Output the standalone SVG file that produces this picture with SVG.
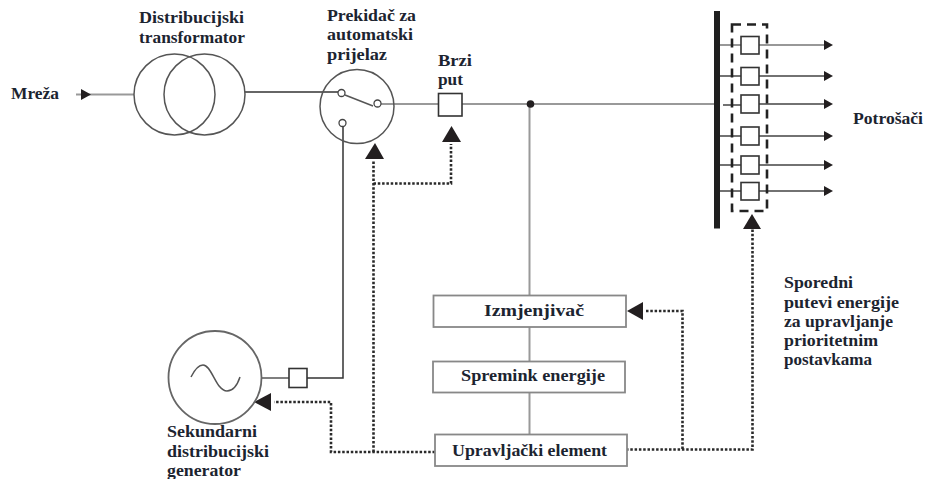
<svg xmlns="http://www.w3.org/2000/svg" width="925" height="479" viewBox="0 0 925 479">
<style>
text{font-family:"Liberation Serif","Times New Roman",serif;font-weight:bold;font-size:16px;fill:#1c2430}
.s{fill:none;stroke:#444;stroke-width:1.5}
.d{fill:none;stroke:#333;stroke-width:1.5}
.g{fill:none;stroke:#999;stroke-width:2}
.k{fill:none;stroke:#555;stroke-width:1.5}
.b{fill:#fff;stroke:#333;stroke-width:1.6}
.bx{fill:#fff;stroke:#888;stroke-width:1.800}
.dot{fill:none;stroke:#2a2a2a;stroke-width:2.600;stroke-dasharray:2.500 1.800}
.ar{fill:#231f20}
</style>
<rect width="925" height="479" fill="#fff"/>
<g id="connectors">
<path class="g" d="M76 94.500H134"/>
<path class="d" d="M245 92H338"/>
<path class="k" d="M345 95L373 106"/>
<path class="g" d="M381 104H438M462 104H714"/>
<path class="g" d="M529.500 104V295M529.500 327V361M529.500 392V434"/>
<path class="d" d="M343 127V378H307"/>
<path class="k" d="M262 378H289"/>
<g class="s">
<path d="M720 45H741M759 45H824" stroke="#777"/>
<path d="M720 76H741M759 76H824"/>
<path d="M723 105H741M759 104H824"/>
<path d="M720 136H741M759 136H824"/>
<path d="M720 165H741M759 165H824"/>
<path d="M720 191H741M759 191H824"/>
</g>
<path class="dot" d="M626 449.500H752.500V229"/>
<path class="dot" d="M682.500 449V311H645"/>
<path class="dot" d="M435 452H331V402H274"/>
<path class="dot" d="M373.500 452V160"/>
<path class="dot" d="M373.500 183.500H451V144"/>
<path class="ar" d="M91 94.500L81 89V100Z"/>
<path class="ar" d="M375 143L365 159H384Z"/>
<path class="ar" d="M451.500 126L442 142H461Z"/>
<path class="ar" d="M752 214L743 229H761Z"/>
<path class="ar" d="M627 311L643 302V320Z"/>
<path class="ar" d="M254 402L271 393V411Z"/>
<path class="ar" d="M833 45L824 40V50Z"/>
<path class="ar" d="M833 76L824 71V81Z"/>
<path class="ar" d="M833 104L824 99V109Z"/>
<path class="ar" d="M833 136L824 131V141Z"/>
<path class="ar" d="M833 165L824 160V170Z"/>
<path class="ar" d="M833 191L824 186V196Z"/>
<circle cx="530.500" cy="104" r="3.800" fill="#231f20"/>
</g>
<g id="mreza"><text x="11" y="99" textLength="48" lengthAdjust="spacingAndGlyphs">Mreža</text></g>
<g id="transformator">
<circle class="k" cx="174.500" cy="94.500" r="40.500"/>
<circle class="k" cx="204.500" cy="94.500" r="40.500"/>
<text x="139" y="23" textLength="105" lengthAdjust="spacingAndGlyphs">Distribucijski</text>
<text x="139" y="43" textLength="106" lengthAdjust="spacingAndGlyphs">transformator</text>
</g>
<g id="prekidac">
<circle class="k" cx="357" cy="106.500" r="37"/>
<circle cx="341.500" cy="93" r="3.500" fill="#fff" stroke="#444" stroke-width="1.300"/>
<circle cx="377.500" cy="103.500" r="3.500" fill="#fff" stroke="#444" stroke-width="1.300"/>
<circle cx="342.500" cy="123" r="3.500" fill="#fff" stroke="#444" stroke-width="1.300"/>
<text x="327" y="21" textLength="89" lengthAdjust="spacingAndGlyphs">Prekidač za</text>
<text x="327" y="40" textLength="86" lengthAdjust="spacingAndGlyphs">automatski</text>
<text x="327" y="60" textLength="60" lengthAdjust="spacingAndGlyphs">prijelaz</text>
</g>
<g id="brzi-put">
<rect class="b" x="438.500" y="93.500" width="23.500" height="22.500"/>
<text x="438" y="66" textLength="34" lengthAdjust="spacingAndGlyphs">Brzi</text>
<text x="438" y="85" textLength="25" lengthAdjust="spacingAndGlyphs">put</text>
</g>
<g id="sabirnica"><rect x="714" y="11" width="6" height="217.500" fill="#1f1f1f"/></g>
<g id="potrosaci">
<rect x="732" y="24.500" width="35" height="186.500" fill="none" stroke="#222" stroke-width="2.600" stroke-dasharray="9 6"/>
<rect class="b" x="741" y="36.500" width="18" height="17.500"/>
<rect class="b" x="741" y="67.500" width="18" height="17.500"/>
<rect class="b" x="741" y="95" width="18" height="18"/>
<rect class="b" x="741" y="127" width="18" height="18"/>
<rect class="b" x="741" y="156" width="18" height="18"/>
<rect class="b" x="741" y="182.500" width="18" height="17.500"/>
<text x="853" y="124" textLength="70" lengthAdjust="spacingAndGlyphs">Potrošači</text>
</g>
<g id="sporedni">
<text x="784" y="288" textLength="69" lengthAdjust="spacingAndGlyphs">Sporedni</text>
<text x="784" y="308" textLength="115" lengthAdjust="spacingAndGlyphs">putevi energije</text>
<text x="784" y="327" textLength="109" lengthAdjust="spacingAndGlyphs">za upravljanje</text>
<text x="784" y="346" textLength="94" lengthAdjust="spacingAndGlyphs">prioritetnim</text>
<text x="784" y="365" textLength="88" lengthAdjust="spacingAndGlyphs">postavkama</text>
</g>
<g id="izmjenjivac">
<rect class="bx" x="433.500" y="295.500" width="192.500" height="31.500"/>
<text x="484" y="316" textLength="100" lengthAdjust="spacingAndGlyphs">Izmjenjivač</text>
</g>
<g id="spremink">
<rect class="bx" x="433" y="361.500" width="192" height="31"/>
<text x="461" y="381" textLength="144" lengthAdjust="spacingAndGlyphs">Spremink energije</text>
</g>
<g id="upravljacki">
<rect class="bx" x="435" y="434.500" width="192" height="31.500"/>
<text x="452" y="456" textLength="155" lengthAdjust="spacingAndGlyphs">Upravljački element</text>
</g>
<g id="generator">
<circle cx="215" cy="377.500" r="46.500" fill="none" stroke="#666" stroke-width="1.800"/>
<path d="M191 377C195 369 199 365 203 365C212 365 216 391 227 391C233 391 237 386 240 377" fill="none" stroke="#555" stroke-width="1.500"/>
<rect class="b" x="289" y="368.500" width="18" height="19"/>
<text x="167" y="437" textLength="90" lengthAdjust="spacingAndGlyphs">Sekundarni</text>
<text x="167" y="457" textLength="102" lengthAdjust="spacingAndGlyphs">distribucijski</text>
<text x="167" y="476" textLength="74" lengthAdjust="spacingAndGlyphs">generator</text>
</g>
</svg>
